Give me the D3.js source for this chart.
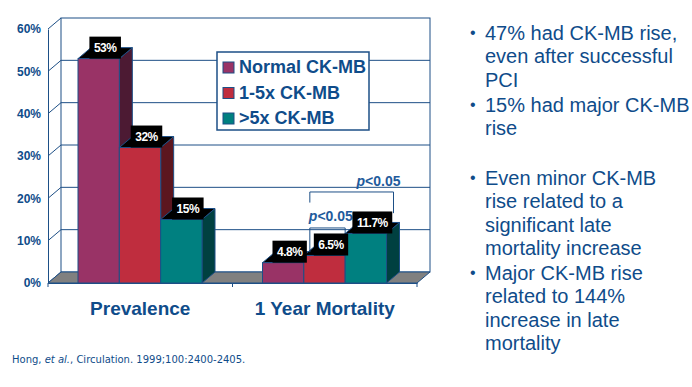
<!DOCTYPE html>
<html>
<head>
<meta charset="utf-8">
<script src="https://cdn.jsdelivr.net/npm/d3@7"></script>
<style>
  body { margin: 0; background: #fff; }
  svg { display: block; font-family: "Liberation Sans", Arial, sans-serif; }
</style>
</head>
<body>
<svg width="692" height="387"></svg>
<script>
// chart values
var categories = ["Prevalence", "1 Year Mortality"];
var seriesNames = ["Normal CK-MB", "1-5x CK-MB", ">5x CK-MB"];
var prevalence = [53, 32, 15];
var mortality = [4.8, 6.5, 11.7];
var valueLabels = [["53%", "32%", "15%"], ["4.8%", "6.5%", "11.7%"]];
var yTicks = [0, 10, 20, 30, 40, 50, 60];
var pLabel = "<0.05";
var bullets = [
  ["47% had CK-MB rise,", "even after successful", "PCI"],
  ["15% had major CK-MB", "rise"],
  ["Even minor CK-MB", "rise related to a", "significant late", "mortality increase"],
  ["Major CK-MB rise", "related to 144%", "increase in late", "mortality"]
];

var svg = d3.select("svg");
var navy = "#0f4c8a", lineCol = "#1d4f86";
var front = ["#993366", "#bf2d3e", "#008080"],
    top = ["#7a2952", "#8f2130", "#006666"],
    side = ["#4c1a33", "#5c161f", "#004040"];

// depth of the 3d box
var dx = 13, dy = 11;

var y = d3.scaleLinear().domain([0, 60]).range([283, 29]);
var x0 = d3.scaleBand().domain(categories).range([48, 417]);
var x1 = d3.scaleBand().domain(seriesNames).range([30, 154]);
var base = y(0);

var rows = categories.map(function(c, i) {
  var vals = i == 0 ? prevalence : mortality;
  return seriesNames.map(function(s, j) {
    return {cat: c, key: s, j: j, value: vals[j], label: valueLabels[i][j]};
  });
});

var g = svg.append("g");

// back wall
g.append("rect")
  .attr("x", x0.range()[0] + dx).attr("y", y(60) - dy)
  .attr("width", x0.range()[1] - x0.range()[0])
  .attr("height", y(0) - y(60))
  .attr("fill", "#fff").attr("stroke", lineCol);

g.selectAll(".grid").data(yTicks.slice(1, -1)).enter().append("line")
  .attr("x1", x0.range()[0] + dx).attr("x2", x0.range()[1] + dx)
  .attr("y1", function(d) { return y(d) - dy; })
  .attr("y2", function(d) { return y(d) - dy; })
  .attr("stroke", lineCol);

// left wall diagonals
g.selectAll(".diag").data(yTicks).enter().append("line")
  .attr("x1", x0.range()[0]).attr("x2", x0.range()[0] + dx)
  .attr("y1", function(d) { return y(d); })
  .attr("y2", function(d) { return y(d) - dy; })
  .attr("stroke", lineCol);

// floor
var fx0 = x0.range()[0], fx1 = x0.range()[1];
g.append("polygon")
  .attr("points", [[fx0, base], [fx1, base], [fx1 + dx, base - dy], [fx0 + dx, base - dy]].join(" "))
  .attr("fill", "#808080").attr("stroke", lineCol);

// legend (sits on the wall)
var legend = svg.append("g").attr("transform", "translate(217,52)");
legend.append("rect").attr("width", 152).attr("height", 78)
  .attr("fill", "#fff").attr("stroke", lineCol).attr("stroke-width", 1.5);
var li = legend.selectAll(".li").data(seriesNames).enter().append("g")
  .attr("transform", function(d, i) { return "translate(0," + (21 + i * 25.5) + ")"; });
li.append("rect").attr("x", 6).attr("y", -11).attr("width", 11).attr("height", 11)
  .attr("fill", function(d, i) { return front[i]; }).attr("stroke", lineCol);
li.append("text").attr("x", 22).attr("font-size", 18).attr("font-weight", "bold")
  .attr("fill", navy).text(function(d) { return d; });

// bars
var bars = svg.append("g").selectAll("g").data(rows).enter().append("g")
  .attr("transform", function(d) { return "translate(" + x0(d[0].cat) + ",0)"; })
  .selectAll("g").data(function(d) { return d; }).enter().append("g");
var bw = x1.bandwidth();
bars.append("polygon")
  .attr("points", function(d) {
    var x = x1(d.key), yv = y(d.value);
    return [[x + bw, yv], [x + bw + dx, yv - dy], [x + bw + dx, base - dy], [x + bw, base]].join(" ");
  })
  .attr("fill", function(d) { return side[d.j]; }).attr("stroke", lineCol);
bars.append("polygon")
  .attr("points", function(d) {
    var x = x1(d.key), yv = y(d.value);
    return [[x, yv], [x + dx, yv - dy], [x + bw + dx, yv - dy], [x + bw, yv]].join(" ");
  })
  .attr("fill", function(d) { return top[d.j]; }).attr("stroke", lineCol);
bars.append("rect")
  .attr("x", function(d) { return x1(d.key); })
  .attr("y", function(d) { return y(d.value); })
  .attr("width", bw)
  .attr("height", function(d) { return base - y(d.value); })
  .attr("fill", function(d) { return front[d.j]; }).attr("stroke", lineCol);

// axes
var yAxis = svg.append("g").attr("transform", "translate(" + fx0 + ",0)")
  .call(d3.axisLeft(y).tickValues(yTicks).tickFormat(function(d) { return d + "%"; })
    .tickSize(0).tickPadding(7));
yAxis.select(".domain").attr("stroke", lineCol);
yAxis.selectAll("text").attr("font-size", 12).attr("font-weight", "bold")
  .attr("fill", navy).attr("font-family", "Liberation Sans, Arial, sans-serif");

var xAxis = svg.append("g").attr("transform", "translate(0," + base + ")")
  .call(d3.axisBottom(x0).tickSize(0).tickSizeOuter(0));
xAxis.select(".domain").attr("stroke", lineCol);
xAxis.selectAll("text").attr("y", 32).attr("dy", 0).attr("font-size", 19)
  .attr("font-weight", "bold").attr("fill", navy)
  .attr("font-family", "Liberation Sans, Arial, sans-serif");
xAxis.selectAll(".edge").data([fx0, x0(categories[1]), fx1]).enter().append("line")
  .attr("x1", function(d) { return d; }).attr("x2", function(d) { return d; })
  .attr("y1", 0).attr("y2", 4).attr("stroke", lineCol);

// significance brackets
var mx = x0(categories[1]);
var b2 = mx + x1(seriesNames[1]), b3 = mx + x1(seriesNames[2]);
var ann = svg.append("g").attr("stroke", lineCol).attr("fill", "none");
ann.append("path").attr("d", "M" + (b2 + 6) + "," + y(19) + "V" + y(21.5) +
  "H" + (b3 + bw + 7) + "V" + y(16.5));
ann.append("path").attr("d", "M" + (b2 + 6) + "," + y(7.3) + "V" + y(13) +
  "H" + (b2 + bw) + "V" + y(11));

function pText(x, yy, anchor) {
  var t = svg.append("text").attr("x", x).attr("y", yy).attr("text-anchor", anchor)
    .attr("font-size", 14).attr("font-weight", "bold").attr("fill", "#1f5b9c");
  t.append("tspan").attr("font-style", "italic").text("p");
  t.append("tspan").text(pLabel);
}
pText(b3 + bw + 14, y(23), "end");
pText(b2 + 5, y(14.7), "start");

// value boxes
var labels = svg.append("g").selectAll("g").data(d3.merge(rows)).enter().append("g")
  .attr("transform", function(d) {
    return "translate(" + (x0(d.cat) + x1(d.key) + bw / 2 + dx / 2) + "," + (y(d.value) - dy) + ")";
  });
labels.append("rect");
labels.append("text").attr("text-anchor", "middle").attr("dy", "0.36em")
  .attr("font-size", 12).attr("font-weight", "bold").attr("fill", "#fff")
  .attr("letter-spacing", -0.5)
  .text(function(d) { return d.label; });
labels.each(function() {
  var w = d3.select(this).select("text").node().getComputedTextLength() + 9;
  d3.select(this).select("rect").attr("x", -w / 2).attr("y", -11)
    .attr("width", w).attr("height", 22).attr("fill", "#000");
});

// bullet text on the right
var lh = 23.4, starts = [40, 112, 185, 280];
var bt = svg.append("g").attr("fill", navy).attr("font-size", 20);
bullets.forEach(function(lines, i) {
  bt.append("text").attr("x", 470).attr("y", starts[i] - 2).attr("font-size", 16).text("\u2022");
  bt.selectAll(null).data(lines).enter().append("text")
    .attr("x", 485)
    .attr("y", function(d, k) { return starts[i] + k * lh; })
    .text(function(d) { return d; });
});

// source
var src = svg.append("text").attr("x", 12).attr("y", 363).attr("font-size", 10)
  .attr("font-family", "DejaVu Sans, Verdana, sans-serif").attr("fill", navy);
src.append("tspan").text("Hong, ");
src.append("tspan").attr("font-style", "italic").text("et al.");
src.append("tspan").text(", Circulation. 1999;100:2400-2405.");
</script>
</body>
</html>
